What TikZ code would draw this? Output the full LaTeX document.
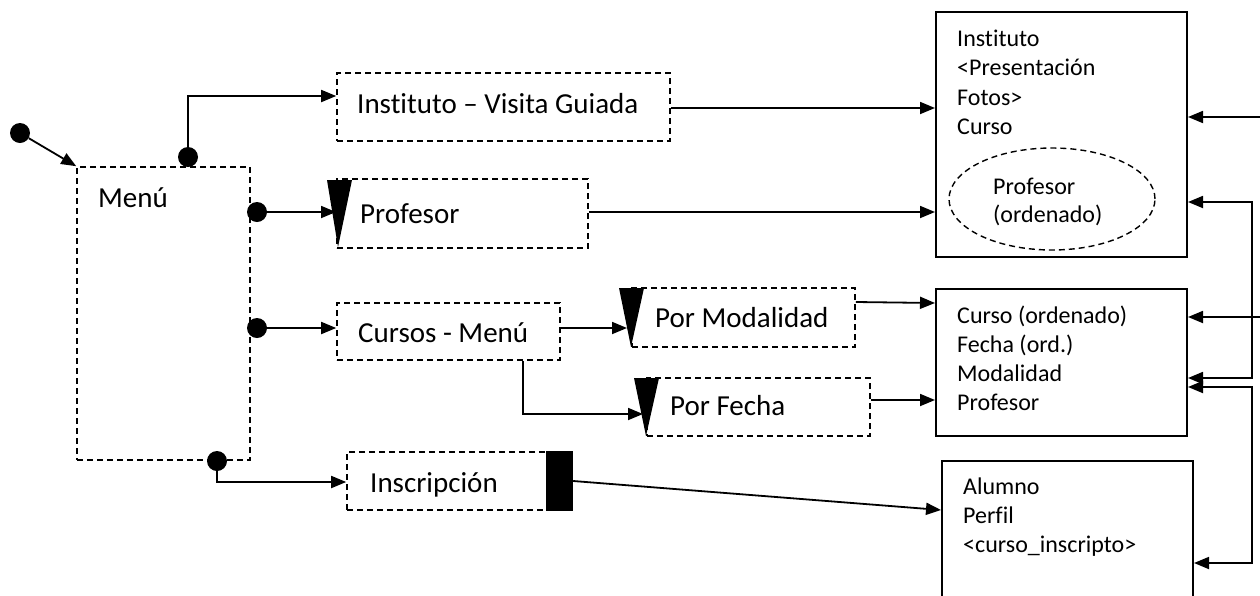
\documentclass[tikz,border=0pt]{standalone}
\usepackage{fontspec}
\setmainfont{Carlito}[Ligatures=NoCommon]
\usetikzlibrary{arrows.meta,shapes.geometric}
\begin{document}
\begin{tikzpicture}[x=1pt,y=-1pt,
  box/.style={draw, line width=1.6pt, dash pattern=on 6pt off 4pt, inner sep=0pt, rectangle},
  sbox/.style={draw, line width=2pt, inner sep=0pt, rectangle},
  lbl/.style={anchor=base west, inner sep=0pt, font=\fontsize{29}{34}\selectfont},
  stxt/.style={anchor=base west, inner sep=0pt, font=\fontsize{24}{29}\selectfont},
  dot/.style={circle, fill=black, inner sep=0pt, minimum size=20pt},
  conn/.style={line width=1.8pt, -{Triangle[length=15pt,width=12pt]}},
  bconn/.style={line width=1.8pt, {Triangle[length=15pt,width=12pt]}-{Triangle[length=15pt,width=12pt]}}
]
\useasboundingbox (0,0) rectangle (1260,595);

% dashed boxes
\node[box, minimum width=173pt, minimum height=293pt] (menu) at (163.5,313.5) {};
\node[lbl] (menut) at (98,207) {Menú};
\node[box, minimum width=333pt, minimum height=68pt] (visita) at (503.5,107) {};
\node[lbl] (visitat) at (357,113) {Instituto – Visita Guiada};
\node[box, minimum width=251pt, minimum height=69pt] (profesor) at (462.5,213.5) {};
\node[lbl] (profesort) at (360,223) {Profesor};
\node[box, minimum width=223pt, minimum height=57pt] (cursos) at (448.5,331.5) {};
\node[lbl] (cursost) at (358,342) {Cursos - Menú};
\node[box, minimum width=223pt, minimum height=59pt] (modalidad) at (743.5,317.5) {};
\node[lbl] (modalidadt) at (655,327) {Por Modalidad};
\node[box, minimum width=223pt, minimum height=58pt] (fecha) at (758.5,407) {};
\node[lbl] (fechat) at (670,415) {Por Fecha};
\node[box, minimum width=225pt, minimum height=58pt] (inscripcion) at (459.5,481) {};
\node[lbl] (inscripciont) at (370,492) {Inscripción};
\node[fill=black, inner sep=0pt, minimum width=27pt, minimum height=60pt] (bar) at (559.5,481) {};

% black triangles
\fill (327,180) -- (352,180) -- (338,247) -- cycle;
\fill (619,288) -- (644,288) -- (631,347) -- cycle;
\fill (634,378) -- (659,378) -- (646,436) -- cycle;
\coordinate (tpro) at (336,212);
\coordinate (tmod) at (627,328);
\coordinate (tfec) at (643,414);

% solid boxes
\node[sbox, minimum width=251pt, minimum height=245pt] (instituto) at (1061.5,134.5) {};
\node[stxt] (i1) at (957,46) {Instituto};
\node[stxt] (i2) at (957,75.5) {<Presentación};
\node[stxt] (i3) at (957,105) {Fotos>};
\node[stxt] (i4) at (957,134) {Curso};
\node[draw, ellipse, line width=1.4pt, dash pattern=on 6pt off 4pt, minimum width=206pt, minimum height=102pt, inner sep=0pt] (elip) at (1052,199) {};
\node[stxt] (e1t) at (993,194) {Profesor};
\node[stxt] (e2t) at (993,222) {(ordenado)};

\node[sbox, minimum width=251pt, minimum height=147pt] (curso) at (1061.5,362.5) {};
\node[stxt] (c1) at (957,323) {Curso (ordenado)};
\node[stxt] (c2) at (957,352.5) {Fecha (ord.)};
\node[stxt] (c3) at (957,381.5) {Modalidad};
\node[stxt] (c4) at (957,410.5) {Profesor};

\node[sbox, minimum width=251pt, minimum height=179pt] (alumno) at (1067.5,550.5) {};
\node[stxt] (a1) at (963,494) {Alumno};
\node[stxt] (a2) at (963,523) {Perfil};
\node[stxt] (a3) at (963,552) {<curso\_inscripto>};

% dots
\node[dot] (start) at (20,133) {};
\node[dot] (d1) at (188,157) {};
\node[dot] (d2) at (257,212) {};
\node[dot] (d3) at (257,328) {};
\node[dot] (d4) at (217,461) {};

% connectors
\draw[conn] (start) -- (menu.north west);
\draw[conn] (d1) |- (visita.west |- 0,96);
\draw[conn] (d2) -- (tpro);
\draw[conn] (d3) -- (cursos.west |- d3);
\draw[conn] (d4) |- (inscripcion.west |- 0,482);
\draw[conn] (cursos.east |- tmod) -- (tmod);
\draw[conn] (cursos.south -| 523,0) |- (tfec);
\draw[conn] (visita.east |- 0,108) -- (instituto.west |- 0,108);
\draw[conn] (profesor.east |- 0,212) -- (instituto.west |- 0,212);
\draw[conn] (modalidad.east |- 0,302) -- (curso.west |- 0,303);
\draw[conn] (fecha.east |- 0,400) -- (curso.west |- 0,400);
\draw[conn] (bar.east) -- (alumno.west |- 0,510);
\coordinate (r1) at (1262,117);
\coordinate (r2) at (1262,317);
\draw[conn] (r1) -- (instituto.east |- r1);
\draw[conn] (r2) -- (curso.east |- r2);
\coordinate (v1) at (1252,290);
\coordinate (v2) at (1252,470);
\draw[bconn] (instituto.east |- 0,202) -| (v1) |- (curso.east |- 0,378);
\draw[bconn] (curso.east |- 0,387) -| (v2) |- (alumno.east |- 0,563);
\end{tikzpicture}
\end{document}
